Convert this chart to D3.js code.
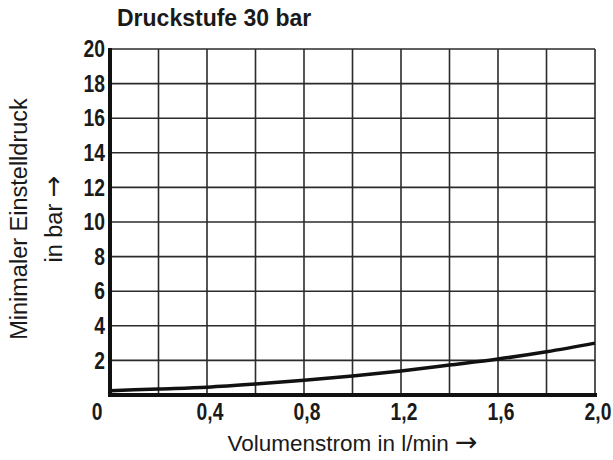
<!DOCTYPE html>
<html>
<head>
<meta charset="utf-8">
<script src="https://cdn.jsdelivr.net/npm/d3@7"></script>
<style>
  body { margin: 0; background: #fff; }
  svg { font-family: "Liberation Sans", Arial, Helvetica, sans-serif; }
  .grid line { stroke: #2b2b2b; stroke-width: 1.6; }
  .tick-label { font-weight: bold; font-size: 23px; fill: #1a1a1a; }
  .axis-title { fill: #1a1a1a; }
  .arrow { font-family: "DejaVu Sans", sans-serif; }
</style>
</head>
<body>
<div id="chart"></div>
<script>
// Volumenstrom in l/min vs. minimaler Einstelldruck in bar
const flowValues = [0, 0.2, 0.4, 0.6, 0.8, 1.0, 1.2, 1.4, 1.6, 1.8, 2.0];
const pressureValues = [0.25, 0.35, 0.45, 0.63, 0.85, 1.1, 1.39, 1.73, 2.08, 2.5, 3.0];

const xGridValues = [0, 0.2, 0.4, 0.6, 0.8, 1.0, 1.2, 1.4, 1.6, 1.8, 2.0];
const xTickValues = [0.4, 0.8, 1.2, 1.6, 2.0];
const yTickValues = [2, 4, 6, 8, 10, 12, 14, 16, 18, 20];

const title = 'Druckstufe 30 bar';
const xTitle = 'Volumenstrom in l/min';
const yTitleLines = ['Minimaler Einstelldruck', 'in bar'];

const W = 613, H = 460;
const pad = {l: 110, r: 18, t: 49, b: 65};
const iw = W - pad.l - pad.r;
const ih = H - pad.t - pad.b;
const squeeze = 0.84; // tick digits are condensed in the original

const svg = d3.select('#chart').append('svg')
  .attr('width', W)
  .attr('height', H);

const chart = svg.append('g')
  .attr('transform', `translate(${pad.l}, ${pad.t})`);

const x = d3.scaleLinear().domain([0, 2]).range([0, iw]);
const y = d3.scaleLinear().domain([0, 20]).range([ih, 0]);

// grid
const grid = chart.append('g').classed('grid', true);
grid.selectAll('.vline')
  .data(xGridValues.slice(1))
  .join('line')
  .attr('x1', d => x(d)).attr('x2', d => x(d))
  .attr('y1', 0).attr('y2', ih);
grid.selectAll('.hline')
  .data(yTickValues)
  .join('line')
  .attr('x1', 0).attr('x2', iw)
  .attr('y1', d => y(d)).attr('y2', d => y(d));

// thick axis lines
chart.append('line')
  .attr('x1', 0).attr('x2', 0)
  .attr('y1', -1).attr('y2', ih + 2)
  .attr('stroke', '#111').attr('stroke-width', 4);
chart.append('line')
  .attr('x1', -2).attr('x2', iw + 2)
  .attr('y1', ih).attr('y2', ih)
  .attr('stroke', '#111').attr('stroke-width', 4);

// curve
const line = d3.line()
  .x((d, i) => x(flowValues[i]))
  .y(d => y(d))
  .curve(d3.curveMonotoneX);
chart.append('path')
  .datum(pressureValues)
  .attr('d', line)
  .attr('fill', 'none')
  .attr('stroke', '#111')
  .attr('stroke-width', 3.5);

// tick labels
chart.selectAll('.ylab')
  .data(yTickValues)
  .join('text')
  .classed('tick-label', true)
  .attr('transform', d => `translate(-5, ${y(d)}) scale(${squeeze}, 1)`)
  .attr('dy', '0.36em')
  .attr('text-anchor', 'end')
  .text(d => d);

const fmt = d => d3.format('.1f')(d).replace('.', ',');
chart.selectAll('.xlab')
  .data(xTickValues)
  .join('text')
  .classed('tick-label', true)
  .attr('transform', d => `translate(${x(d) + 3}, ${ih + 25}) scale(${squeeze}, 1)`)
  .attr('text-anchor', 'middle')
  .text(fmt);
chart.append('text')
  .classed('tick-label', true)
  .attr('transform', `translate(-13, ${ih + 25}) scale(${squeeze}, 1)`)
  .attr('text-anchor', 'middle')
  .text('0');

// titles
svg.append('text')
  .attr('x', 117).attr('y', 26)
  .attr('font-weight', 'bold')
  .attr('font-size', 23)
  .attr('fill', '#1a1a1a')
  .text(title);

const xt = svg.append('text')
  .classed('axis-title', true)
  .attr('font-size', 22.5)
  .attr('x', pad.l + iw / 2)
  .attr('y', 451)
  .attr('text-anchor', 'middle');
xt.append('tspan').text(xTitle + ' ');
xt.append('tspan').classed('arrow', true).attr('font-size', 27).text('→');

const yt = svg.append('text')
  .classed('axis-title', true)
  .attr('font-size', 23.5)
  .attr('transform', `translate(0, ${pad.t + ih / 2 - 3}) rotate(-90)`)
  .attr('text-anchor', 'middle');
yt.append('tspan').attr('x', 0).attr('y', 27).text(yTitleLines[0]);
const yt2 = yt.append('tspan').attr('x', 0).attr('y', 62);
yt2.append('tspan').text(yTitleLines[1] + ' ');
yt2.append('tspan').classed('arrow', true).attr('font-size', 26).text('→');
</script>
</body>
</html>
